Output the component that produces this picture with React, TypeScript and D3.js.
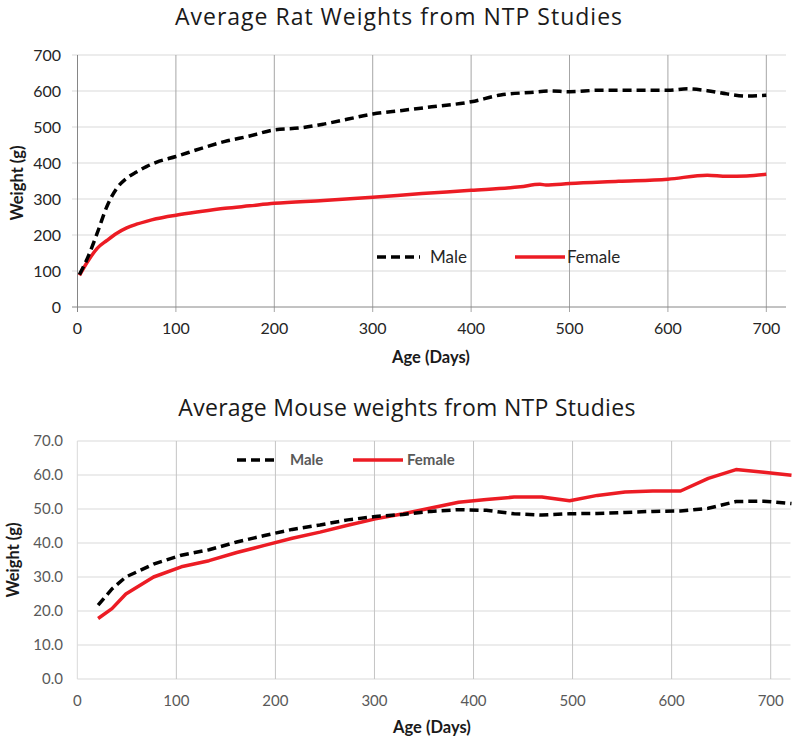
import React from 'react';
import * as d3 from 'd3';

// rat weights (g)
const ratMaleAge = [2, 10, 20, 30, 40, 50, 60, 70, 80, 100, 125, 150, 175, 200, 225, 250, 275, 300, 330, 360, 400, 430, 460, 480, 500, 530, 560, 600, 620, 640, 660, 680, 700];
const ratMaleWeight = [90, 135, 205, 280, 330, 358, 375, 390, 402, 418, 440, 460, 475, 492, 497, 508, 522, 536, 546, 556, 570, 589, 596, 600, 598, 602, 602, 602, 606, 601, 592, 586, 588];
const ratFemaleAge = [2, 10, 20, 30, 40, 50, 60, 70, 80, 100, 125, 150, 175, 200, 250, 300, 350, 400, 450, 470, 476, 500, 550, 600, 640, 660, 680, 700];
const ratFemaleWeight = [88, 125, 163, 185, 205, 220, 230, 238, 245, 255, 265, 274, 281, 288, 296, 305, 315, 324, 334, 341, 339, 343, 349, 355, 366, 363, 364, 369];

// mouse weights (g)
const mouseAge = [21, 35, 49, 77, 105, 133, 161, 189, 217, 245, 273, 301, 329, 357, 385, 413, 441, 469, 497, 525, 553, 581, 609, 637, 665, 693, 721];
const mouseMale = [21.7, 26.5, 30.0, 33.8, 36.4, 38.0, 40.3, 42.2, 44.0, 45.3, 46.8, 47.8, 48.4, 49.3, 49.8, 49.6, 48.6, 48.2, 48.6, 48.7, 49.0, 49.3, 49.4, 50.2, 52.2, 52.3, 51.6];
const mouseFemale = [17.8, 20.7, 25.0, 30.0, 33.0, 34.8, 37.2, 39.3, 41.4, 43.2, 45.2, 47.1, 48.6, 50.3, 52.0, 52.8, 53.5, 53.5, 52.4, 54.0, 55.0, 55.3, 55.3, 59.0, 61.6, 60.8, 59.9];

const xTicks = [0, 100, 200, 300, 400, 500, 600, 700];
const ratYTicks = [0, 100, 200, 300, 400, 500, 600, 700];
const mouseYTicks = [0, 10, 20, 30, 40, 50, 60, 70];

const RED = '#ec1c24';
const TITLE_FONT = "'Open Sans', sans-serif";
const FONT = "Lato, 'Open Sans', sans-serif";

export default function App() {
  // top chart scales
  const x1 = d3.scaleLinear().domain([0, 720]).range([77.5, 786]);
  const y1 = d3.scaleLinear().domain([0, 700]).range([307, 55]);
  // bottom chart scales
  const x2 = d3.scaleLinear().domain([0, 720]).range([77.3, 790.5]);
  const y2 = d3.scaleLinear().domain([0, 70]).range([679, 441]);

  const ratLine = d3.line<[number, number]>()
    .x(d => x1(d[0]))
    .y(d => y1(d[1]))
    .curve(d3.curveMonotoneX);
  const mouseLine = d3.line<[number, number]>()
    .x(d => x2(d[0]))
    .y(d => y2(d[1]));

  const ratMale = ratMaleAge.map((a, i) => [a, ratMaleWeight[i]] as [number, number]);
  const ratFemale = ratFemaleAge.map((a, i) => [a, ratFemaleWeight[i]] as [number, number]);
  const mMale = mouseAge.map((a, i) => [a, mouseMale[i]] as [number, number]);
  const mFemale = mouseAge.map((a, i) => [a, mouseFemale[i]] as [number, number]);

  return (
    <svg width={800} height={738} style={{ position: 'absolute', left: 0, top: 0, background: '#fff' }}>
      {/* ---------- rat chart ---------- */}
      <text x={399} y={25} textAnchor="middle" fontFamily={TITLE_FONT} fontSize={23} letterSpacing={1} fill="#1a1a1a">
        Average Rat Weights from NTP Studies
      </text>
      <g>
        {ratYTicks.filter(t => t > 0).map(t => (
          <line key={t} x1={72} x2={786} y1={y1(t)} y2={y1(t)} stroke="#d9d9d9" strokeWidth={1} />
        ))}
        {xTicks.map(t => (
          <line key={t} x1={x1(t)} x2={x1(t)} y1={55} y2={312} stroke={t === 0 ? '#868686' : '#a6a6a6'} strokeWidth={1} />
        ))}
        <line x1={72} x2={786} y1={y1(0)} y2={y1(0)} stroke="#868686" strokeWidth={1} />
        {ratYTicks.map(t => (
          <text key={t} x={61} y={y1(t)} dy="0.35em" textAnchor="end" fontFamily={FONT} fontSize={16} fill="#262626">{t}</text>
        ))}
        {xTicks.map(t => (
          <text key={t} x={x1(t)} y={334} textAnchor="middle" fontFamily={FONT} fontSize={16} fill="#262626">{t}</text>
        ))}
        <text x={431} y={363} textAnchor="middle" fontFamily={FONT} fontWeight="bold" fontSize={16.5} fill="#1a1a1a">Age (Days)</text>
        <text transform="translate(23,183) rotate(-90)" textAnchor="middle" fontFamily={FONT} fontWeight="bold" fontSize={16.5} fill="#1a1a1a">Weight (g)</text>

        <path d={ratLine(ratFemale) || ''} fill="none" stroke={RED} strokeWidth={3.5} strokeLinejoin="round" />
        <path d={ratLine(ratMale) || ''} fill="none" stroke="#000" strokeWidth={3.5} strokeDasharray="9,5" />

        {/* legend */}
        <line x1={377} x2={420} y1={257} y2={257} stroke="#000" strokeWidth={3.5} strokeDasharray="9,5" />
        <text x={430} y={257} dy="0.35em" fontFamily={FONT} fontSize={17} fill="#262626">Male</text>
        <line x1={515} x2={565} y1={257} y2={257} stroke={RED} strokeWidth={3.5} />
        <text x={567} y={257} dy="0.35em" fontFamily={FONT} fontSize={17} fill="#262626">Female</text>
      </g>

      {/* ---------- mouse chart ---------- */}
      <text x={407} y={416} textAnchor="middle" fontFamily={TITLE_FONT} fontSize={23} letterSpacing={0.3} fill="#1a1a1a">
        Average Mouse weights from NTP Studies
      </text>
      <g>
        {mouseYTicks.map(t => (
          <line key={t} x1={77.3} x2={790.5} y1={y2(t)} y2={y2(t)} stroke="#d9d9d9" strokeWidth={1.2} />
        ))}
        {xTicks.map(t => (
          <line key={t} x1={x2(t)} x2={x2(t)} y1={441} y2={679} stroke={t === 0 ? '#d9d9d9' : '#c4c4c4'} strokeWidth={1} />
        ))}
        {mouseYTicks.map(t => (
          <text key={t} x={63} y={y2(t)} dy="0.35em" textAnchor="end" fontFamily={FONT} fontSize={15} fill="#595959">{t.toFixed(1)}</text>
        ))}
        {xTicks.map(t => (
          <text key={t} x={x2(t)} y={706} textAnchor="middle" fontFamily={FONT} fontSize={15} fill="#595959">{t}</text>
        ))}
        <text x={432} y={733} textAnchor="middle" fontFamily={FONT} fontWeight="bold" fontSize={16.5} fill="#1a1a1a">Age (Days)</text>
        <text transform="translate(19,560) rotate(-90)" textAnchor="middle" fontFamily={FONT} fontWeight="bold" fontSize={16.5} fill="#1a1a1a">Weight (g)</text>

        <path d={mouseLine(mFemale) || ''} fill="none" stroke={RED} strokeWidth={3.5} strokeLinejoin="round" />
        <path d={mouseLine(mMale) || ''} fill="none" stroke="#000" strokeWidth={3.5} strokeDasharray="9,5" />

        {/* legend */}
        <line x1={237} x2={279} y1={460} y2={460} stroke="#000" strokeWidth={3.5} strokeDasharray="9,5" />
        <text x={290} y={460} dy="0.35em" fontFamily={FONT} fontWeight="bold" fontSize={15} fill="#595959">Male</text>
        <line x1={353} x2={403} y1={460} y2={460} stroke={RED} strokeWidth={3.5} />
        <text x={407} y={460} dy="0.35em" fontFamily={FONT} fontWeight="bold" fontSize={15} fill="#595959">Female</text>
      </g>
    </svg>
  );
}
